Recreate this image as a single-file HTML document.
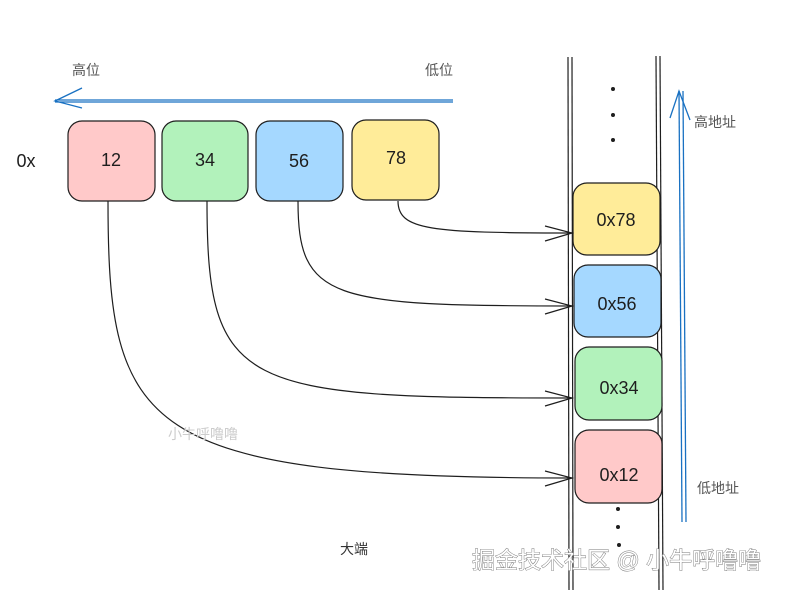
<!DOCTYPE html>
<html><head><meta charset="utf-8"><style>
body{margin:0;background:#fff;}
svg{display:block;font-family:"Liberation Sans","Noto Sans CJK SC",sans-serif;}
</style></head><body>
<svg width="799" height="591" viewBox="0 0 799 591" xmlns="http://www.w3.org/2000/svg">
<g fill="none" stroke="#1e1e1e" stroke-width="1.2">
<rect x="68" y="121" width="87" height="80" rx="14" fill="#ffc9c9"/>
<rect x="162" y="121" width="86" height="80" rx="14" fill="#b2f2bb"/>
<rect x="256" y="121" width="87" height="80" rx="14" fill="#a5d8ff"/>
<rect x="352" y="120" width="87" height="80" rx="14" fill="#ffec99"/>
<line x1="568" y1="57" x2="569" y2="590"/><line x1="572" y1="57" x2="573" y2="590"/>
<line x1="656" y1="56" x2="659" y2="590"/><line x1="660" y1="56" x2="663" y2="590"/>
<rect x="573" y="183" width="87" height="72" rx="14" fill="#ffec99"/>
<rect x="574" y="265" width="87" height="72" rx="14" fill="#a5d8ff"/>
<rect x="575" y="347" width="87" height="73" rx="14" fill="#b2f2bb"/>
<rect x="575" y="430" width="87" height="73" rx="14" fill="#ffc9c9"/>
<path d="M108 201 C108 430 140 478 572 478"/>
<path d="M207 201 C207 390 240 398 572 398"/>
<path d="M298 201 C298 300 330 306 572 306"/>
<path d="M398 201 C398 230 430 233 572 233"/>
<path d="M545 226 L572 233 L545 241 M545 299 L572 306 L545 314 M545 391 L572 398 L545 406 M545 471 L572 478 L545 486"/>
</g>
<g fill="#1e1e1e">
<circle cx="613" cy="89" r="2"/><circle cx="613" cy="115" r="2"/><circle cx="613" cy="140" r="2"/>
<circle cx="618" cy="509" r="2"/><circle cx="618" cy="527" r="2"/><circle cx="619" cy="545" r="2"/>
</g>
<g stroke="#1971c2" stroke-width="1.3" fill="none">
<line x1="55" y1="100" x2="453" y2="100"/><line x1="55" y1="102" x2="453" y2="102"/>
<path d="M82 88 L55 101 L82 108"/>
<line x1="679" y1="91" x2="682" y2="522"/><line x1="683" y1="91" x2="686" y2="522"/>
<path d="M670 118 L679 91 L690 120"/>
</g>
<g fill="#1e1e1e" font-size="18" text-anchor="middle">
<text x="111" y="166">12</text><text x="205" y="166">34</text><text x="299" y="167">56</text><text x="396" y="164">78</text>
<text x="616" y="226">0x78</text><text x="617" y="310">0x56</text><text x="619" y="394">0x34</text><text x="619" y="481">0x12</text>
<text x="26" y="167">0x</text>
</g>
<g fill="#555" font-size="14">
<text x="72" y="75">高位</text><text x="425" y="75">低位</text>
<text x="694" y="127">高地址</text><text x="697" y="493">低地址</text>
<text x="340" y="554" fill="#333">大端</text>
<text x="168" y="439" fill="#ccc">小牛呼噜噜</text>
</g>
<text x="472" y="568" font-size="23" fill="#fff" stroke="#777" stroke-width="0.9" paint-order="stroke">掘金技术社区 @ 小牛呼噜噜</text>
</svg>
</body></html>
